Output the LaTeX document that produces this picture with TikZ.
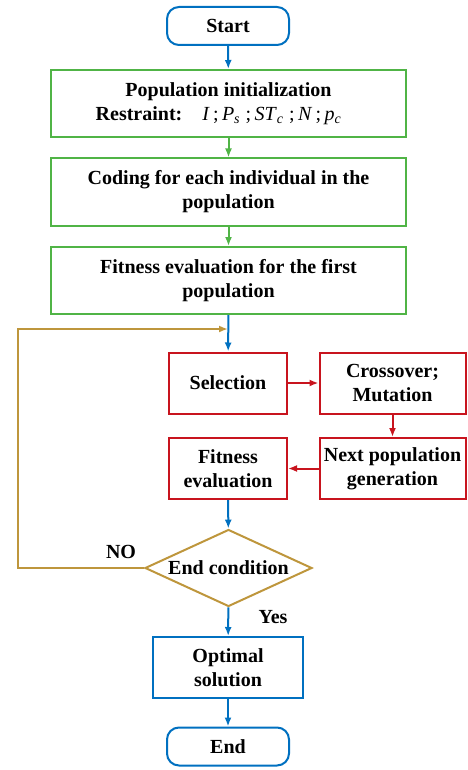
\documentclass[tikz,border=0pt]{standalone}
\usepackage{fontspec}
\setmainfont{Liberation Serif}
\usetikzlibrary{shapes.geometric,arrows.meta}
\definecolor{flowblue}{RGB}{0,112,192}
\definecolor{flowgreen}{RGB}{80,180,70}
\definecolor{flowred}{RGB}{200,20,30}
\definecolor{flowgold}{RGB}{190,150,60}
\newcommand{\isub}[2]{\textit{#1}\textsubscript{\textit{#2}}}

\begin{document}
\begin{tikzpicture}[x=1pt,y=-1pt,
    font=\fontsize{20}{24}\selectfont\bfseries,
    box/.style={draw,line width=2pt,align=center,inner sep=2pt,text=black},
    greenbox/.style={box,draw=flowgreen,minimum width=355pt,minimum height=67pt},
    redbox/.style={box,draw=flowred,minimum height=61pt},
    bluebox/.style={box,draw=flowblue,minimum width=150pt,minimum height=61pt},
    terminal/.style={box,draw=flowblue,rounded corners=12pt,minimum width=122pt,minimum height=38pt},
    decision/.style={box,draw=flowgold,diamond,aspect=2.17,inner sep=0pt,minimum width=167pt,minimum height=77pt},
    flow/.style={-{Latex[length=9pt,width=7pt]},line width=2pt}]
    \useasboundingbox (0,0) rectangle (467,770);
    % Main column
    \node[terminal] (start) at (228,26) {Start};
    \node[greenbox] (init) at (228.5,103.5) {Population initialization\\
      Restraint:\quad{\mdseries\textit{I}\,;\,\isub{P}{s}\;;\,\isub{ST}{c}\;;\,\textit{N}\,;\,\isub{p}{c}}\hspace*{20pt}};
    \node[greenbox] (coding) at (228.5,192) {Coding for each individual in the\\ population};
    \node[greenbox] (fitfirst) at (228.5,280.5) {Fitness evaluation for the first\\ population};
    \coordinate (join) at (228,329);
    % Genetic loop
    \node[redbox,minimum width=118pt] (sel) at (228,383) {Selection};
    \node[redbox,minimum width=146pt] (cross) at (392.5,383) {Crossover;\\ Mutation};
    \node[redbox,minimum width=146pt] (nextpop) at (392.5,468.5) {Next population\\ generation};
    \node[redbox,minimum width=118pt] (fiteval) at (228,468.5) {Fitness\\ evaluation};
    % Decision and end
    \node[decision] (endcond) at (228.5,568) {End condition};
    \coordinate (noleft) at (18,568);
    \node[bluebox] (optimal) at (228,667.5) {Optimal\\ solution};
    \node[terminal] (end) at (228,746.5) {End};
    \path (121,552) node (nolabel) {NO};
    \path (273,617) node (yeslabel) {Yes};
    % Arrows
    \draw[flow,flowblue] (start)--(init);
    \draw[flow,flowgreen] (init)--(coding);
    \draw[flow,flowgreen] (coding)--(fitfirst);
    \draw[flow,flowblue] (fitfirst)--(sel);
    \draw[flow,flowred] (sel)--(cross);
    \draw[flow,flowred] (cross)--(nextpop);
    \draw[flow,flowred] (nextpop)--(fiteval);
    \draw[flow,flowblue] (fiteval)--(endcond);
    \draw[flow,flowgold] (endcond.west)--(noleft)|-(join);
    \draw[flow,flowblue] (endcond)--(optimal);
    \draw[flow,flowblue] (optimal)--(end);
\end{tikzpicture}
\end{document}
